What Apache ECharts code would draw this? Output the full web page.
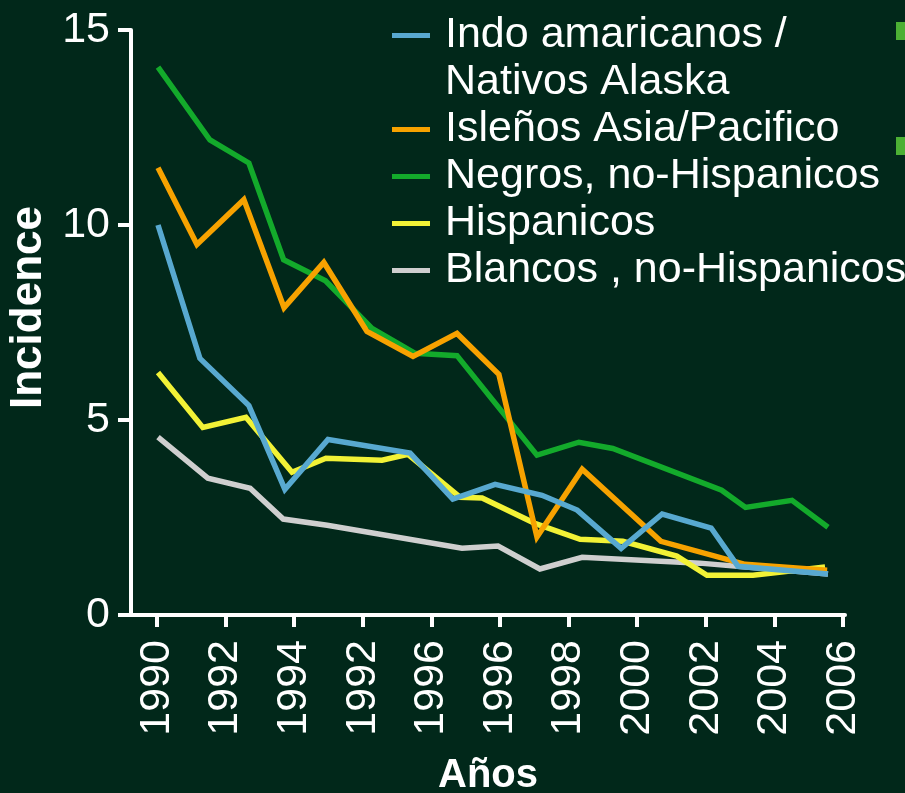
<!DOCTYPE html>
<html>
<head>
<meta charset="utf-8">
<script src="https://cdn.jsdelivr.net/npm/echarts@6/dist/echarts.min.js"></script>
<style>
  html, body { margin: 0; padding: 0; background: #01281a; }
  #chart { width: 905px; height: 793px; }
</style>
</head>
<body>
<div id="chart"></div>
<script>
// Tick labels printed along the horizontal axis (as published)
const tickLabels = ['1990', '1992', '1994', '1992', '1996', '1996', '1998', '2000', '2002', '2004', '2006'];

// Incidence by group: sample times (fractional years) and values
const indoYears = [1990, 1991.0, 1992.17, 1993.03, 1994.06, 1996.02, 1997.04, 1998.05, 1999.17, 2000.01, 2001.06, 2002.04, 2003.21, 2003.85, 2006];
const indoVals  = [10.0, 6.58, 5.37, 3.22, 4.50, 4.15, 2.97, 3.35, 3.07, 2.69, 1.71, 2.59, 2.23, 1.25, 1.05];

const islenosYears = [1990, 1990.93, 1992.05, 1993.01, 1993.96, 1994.99, 1996.09, 1997.14, 1998.14, 1999.05, 2000.13, 2002.01, 2004.02, 2005.98];
const islenosVals  = [11.47, 9.50, 10.65, 7.88, 9.04, 7.27, 6.63, 7.22, 6.17, 2.00, 3.74, 1.89, 1.30, 1.15];

const negrosYears = [1990, 1991.24, 1992.17, 1993.0, 1994.0, 1995.11, 1996.14, 1997.14, 1999.05, 2000.05, 2000.86, 2003.46, 2004.03, 2005.14, 2006];
const negrosVals  = [14.05, 12.18, 11.59, 9.11, 8.57, 7.35, 6.71, 6.65, 4.10, 4.43, 4.27, 3.20, 2.76, 2.94, 2.25];

const hispYears = [1990, 1991.07, 1992.1, 1993.2, 1994.01, 1995.35, 1995.97, 1997.21, 1997.74, 1999.0, 2000.08, 2001.1, 2002.39, 2003.11, 2004.21, 2005.93];
const hispVals  = [6.22, 4.81, 5.07, 3.66, 4.02, 3.97, 4.12, 3.02, 3.00, 2.35, 1.94, 1.89, 1.51, 1.02, 1.02, 1.23];

const blancosYears = [1990, 1991.19, 1992.2, 1992.99, 1994.04, 1997.26, 1998.12, 1999.12, 2000.13, 2002.94, 2006];
const blancosVals  = [4.56, 3.51, 3.25, 2.46, 2.30, 1.71, 1.77, 1.18, 1.48, 1.33, 1.05];

const names = {
  indo: 'Indo amaricanos /\nNativos Alaska',
  islenos: 'Isleños Asia/Pacifico',
  negros: 'Negros, no-Hispanicos',
  hisp: 'Hispanicos',
  blancos: 'Blancos , no-Hispanicos'
};

const FONT = "'Liberation Sans', Arial, sans-serif";
const WHITE = '#ffffff';

function pairs(xs, ys) { return xs.map((x, i) => [x, ys[i]]); }

function lineSeries(name, color, xs, ys, z) {
  return {
    name: name,
    type: 'line',
    xAxisIndex: 1,
    yAxisIndex: 0,
    data: pairs(xs, ys),
    symbol: 'none',
    z: z,
    lineStyle: { color: color, width: 5.5, join: 'miter', cap: 'butt' },
    itemStyle: { color: color },
    emphasis: { disabled: true },
    animation: false
  };
}

const chart = echarts.init(document.getElementById('chart'), null, { renderer: 'canvas' });

chart.setOption({
  backgroundColor: '#01281a',
  animation: false,
  textStyle: { fontFamily: FONT },
  grid: { left: 131, right: 60, top: 30, bottom: 178, containLabel: false, outerBoundsMode: 'none' },
  legend: {
    left: 392,
    top: -35,
    orient: 'vertical',
    padding: 0,
    itemGap: 0,
    itemWidth: 38,
    itemHeight: 5,
    icon: 'rect',
    selectedMode: false,
    formatter: function (n) { return n === names.indo ? '\n' + n : n; },
    textStyle: { color: WHITE, fontSize: 43, fontFamily: FONT, lineHeight: 47, padding: [0, 0, 0, 10] },
    data: [names.indo, names.islenos, names.negros, names.hisp, names.blancos]
  },
  xAxis: [
    {
      // visible axis carrying the printed tick labels
      type: 'value',
      min: -0.379,
      max: 10.03,
      position: 'bottom',
      name: 'Años',
      nameLocation: 'middle',
      nameGap: 141,
      nameTextStyle: { color: WHITE, fontSize: 40, fontWeight: 'bold', fontFamily: FONT },
      axisLine: { show: true, onZero: false, lineStyle: { color: WHITE, width: 4 } },
      axisTick: { show: true, length: 12, lineStyle: { color: WHITE, width: 4 }, customValues: tickLabels.map((_, i) => i) },
      axisLabel: {
        show: true, rotate: 90, margin: 25, color: WHITE, fontSize: 43, fontFamily: FONT,
        customValues: tickLabels.map((_, i) => i),
        formatter: function (v) { return tickLabels[Math.round(v)]; }
      },
      splitLine: { show: false }
    },
    {
      // time axis used to place the lines
      type: 'value',
      min: 1989.355,
      max: 2006.406,
      position: 'bottom',
      show: false,
      splitLine: { show: false }
    }
  ],
  yAxis: {
    type: 'value',
    min: 0,
    max: 15,
    interval: 5,
    name: 'Incidence',
    nameLocation: 'middle',
    nameRotate: 90,
    nameGap: 72,
    nameTextStyle: { color: WHITE, fontSize: 44, fontWeight: 'bold', fontFamily: FONT, padding: [0, 0, 0, 30] },
    axisLine: { show: true, onZero: false, lineStyle: { color: WHITE, width: 4 } },
    axisTick: { show: true, length: 13, lineStyle: { color: WHITE, width: 4 } },
    axisLabel: { color: WHITE, fontSize: 43, margin: 21, fontFamily: FONT },
    splitLine: { show: false }
  },
  graphic: [
    { type: 'rect', shape: { x: 896, y: 22, width: 9, height: 18 }, style: { fill: '#4cb034' } },
    { type: 'rect', shape: { x: 896, y: 137, width: 9, height: 18 }, style: { fill: '#4cb034' } }
  ],
  series: [
    lineSeries(names.blancos, '#cfcfcf', blancosYears, blancosVals, 2),
    lineSeries(names.hisp, '#f2f236', hispYears, hispVals, 3),
    lineSeries(names.negros, '#13aa2b', negrosYears, negrosVals, 4),
    lineSeries(names.islenos, '#f7a200', islenosYears, islenosVals, 5),
    lineSeries(names.indo, '#58a9d0', indoYears, indoVals, 6)
  ]
});
</script>
</body>
</html>
